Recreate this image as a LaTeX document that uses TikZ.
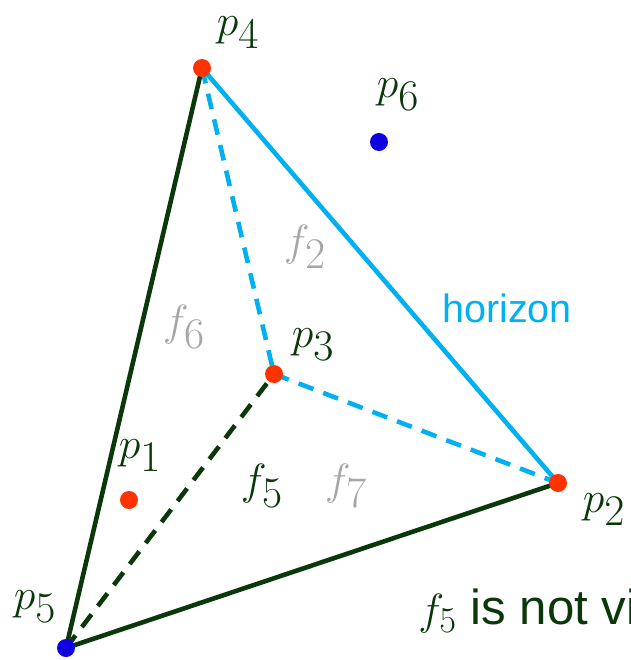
\documentclass[tikz,border=0pt]{standalone}
\usepackage{fontspec}
\usepackage{tikz}
\newfontfamily\arialfont{Liberation Sans}
\usetikzlibrary{calc}
\definecolor{hullgreen}{RGB}{10,56,10}
\definecolor{horizblue}{RGB}{0,176,240}
\definecolor{ptred}{RGB}{255,51,0}
\definecolor{ptblue}{RGB}{16,0,224}
\definecolor{facegray}{RGB}{166,166,166}
\tikzset{
    edge/.style={line width=2.6pt},
    hidden/.style={line width=2.6pt, dash pattern=on 9pt off 6pt},
    ptlabel/.style={text=hullgreen, font=\fontsize{33}{38}\selectfont, inner sep=0pt},
    facelabel/.style={text=facegray, font=\fontsize{33}{38}\selectfont, inner sep=0pt},
}

\begin{document}
\begin{tikzpicture}[x=0.02cm, y=-0.02cm]
    \clip (0,0) rectangle (631,660);

    % Points
    \coordinate (p1) at (129,500);
    \coordinate (p2) at (558,483);
    \coordinate (p3) at (274,374);
    \coordinate (p4) at (202,68);
    \coordinate (p5) at (66,648);
    \coordinate (p6) at (379,142);

    % Visible hull edges
    \draw[edge, hullgreen] (p5) -- (p4);
    \draw[edge, hullgreen] (p5) -- (p2);
    \draw[hidden, hullgreen] (p5) -- (p3);

    % Horizon
    \draw[edge, horizblue] (p4) -- (p2);
    \draw[hidden, horizblue] (p4) -- (p3);
    \draw[hidden, horizblue] (p3) -- (p2);

    % Point dots
    \foreach \p in {p1,p2,p3,p4} {
        \fill[ptred] (\p) circle (9);
    }
    \foreach \p in {p5,p6} {
        \fill[ptblue] (\p) circle (9);
    }

    % Point labels
    \node[ptlabel] (l1) at (140,456) {$p_1$};
    \node[ptlabel] (l2) at (604,510) {$p_2$};
    \node[ptlabel] (l3) at (313,345) {$p_3$};
    \node[ptlabel] (l4) at (238,33) {$p_4$};
    \node[ptlabel] (l5) at (35,607) {$p_5$};
    \node[ptlabel] (l6) at (398,95) {$p_6$};

    % Face labels
    \node[facelabel] (f2) at (305,247) {$f_2$};
    \node[facelabel] (f6) at (184,327) {$f_6$};
    \node[ptlabel] (f5) at (262,486) {$f_5$};
    \node[facelabel] (f7) at (346,486) {$f_7$};

    \node[text=horizblue, font=\arialfont\fontsize{22.5}{26}\selectfont] (hz) at (507,308) {horizon};

    % Note
    \node[anchor=base west, text=hullgreen, inner sep=0pt, font=\arialfont\fontsize{28}{32}\selectfont] (note) at (418,624) {$f_5$ is not visible};
\end{tikzpicture}
\end{document}
